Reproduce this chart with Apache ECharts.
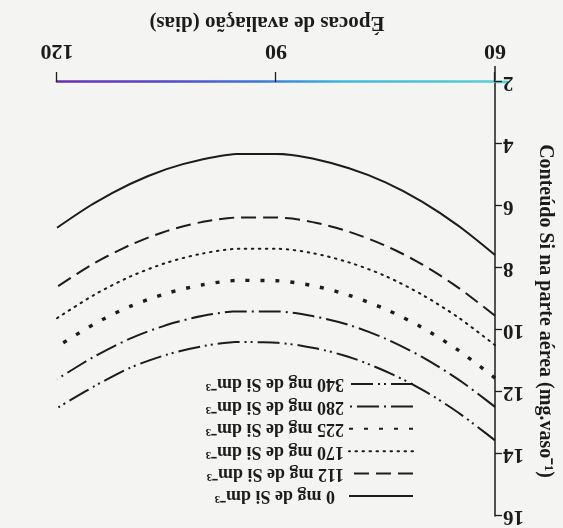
<!DOCTYPE html>
<html>
<head>
<meta charset="utf-8">
<script src="https://cdn.jsdelivr.net/npm/echarts@6/dist/echarts.min.js"></script>
<style>
  html, body { margin: 0; padding: 0; background: #f4f4f2; }
  /* the printed figure is shown turned upside down */
  #chart { width: 563px; height: 528px; transform: rotate(180deg); }
</style>
</head>
<body>
<div id="chart"></div>
<script>
// Evaluation times (days)
const days = [60, 65, 70, 75, 80, 85, 90, 95, 100, 105, 110, 115, 120];
const xTicks = [60, 90, 120];
const yTicks = [2, 4, 6, 8, 10, 12, 14, 16];

// Si content in the shoot (mg per pot) for each Si rate
const si0   = [7.58, 6.64, 5.86, 5.24, 4.78, 4.47, 4.32, 4.32, 4.49, 4.81, 5.29, 5.92, 6.70];
const si112 = [9.54, 8.64, 7.88, 7.28, 6.83, 6.52, 6.37, 6.37, 6.51, 6.81, 7.26, 7.86, 8.61];
const si170 = [10.49, 9.60, 8.86, 8.26, 7.82, 7.52, 7.38, 7.38, 7.53, 7.83, 8.28, 8.88, 9.62];
const si225 = [11.55, 10.66, 9.92, 9.33, 8.88, 8.57, 8.41, 8.40, 8.54, 8.82, 9.24, 9.82, 10.54];
const si280 = [12.48, 11.60, 10.87, 10.28, 9.84, 9.55, 9.40, 9.40, 9.54, 9.84, 10.28, 10.87, 11.59];
const si340 = [13.56, 12.67, 11.92, 11.33, 10.87, 10.57, 10.41, 10.39, 10.52, 10.80, 11.22, 11.83, 12.52];

const seriesNames = [
  '0 mg de Si dm\u207B\u00B3',
  '112 mg de Si dm\u207B\u00B3',
  '170 mg de Si dm\u207B\u00B3',
  '225 mg de Si dm\u207B\u00B3',
  '280 mg de Si dm\u207B\u00B3',
  '340 mg de Si dm\u207B\u00B3'
];
const seriesValues = [si0, si112, si170, si225, si280, si340];

const ink = '#1c1c1c';
const serif = 'Liberation Serif';

// stroke pattern per Si rate
const strokes = [
  { type: 'solid', width: 2 },
  { type: [15, 7], width: 2 },
  { type: [1.5, 5.5], width: 2, cap: 'round' },
  { type: [4, 11], width: 3.4 },
  { type: [22, 5, 2, 5], width: 2 },
  { type: [22, 5, 2, 4, 2, 5], width: 2 }
];

const chart = echarts.init(document.getElementById('chart'), null, { renderer: 'canvas' });

const series = seriesNames.map((name, i) => ({
  name: name,
  type: 'line',
  data: days.map((d, k) => [d, seriesValues[i][k]]),
  smooth: 0.3,
  symbol: 'none',
  showSymbol: false,
  lineStyle: {
    color: ink,
    width: strokes[i].width,
    type: strokes[i].type,
    cap: strokes[i].cap || 'butt'
  },
  itemStyle: { color: ink },
  silent: true
}));

const axisGradient = new echarts.graphic.LinearGradient(0, 0, 1, 0, [
  { offset: 0, color: '#58cfd2' },
  { offset: 0.35, color: '#3fb7dc' },
  { offset: 0.55, color: '#3d74d4' },
  { offset: 0.75, color: '#5648c4' },
  { offset: 1, color: '#6a2fae' }
]);

chart.setOption({
  backgroundColor: '#f4f4f2',
  animation: false,
  grid: { left: 66, right: 57, top: 12, bottom: 82 },
  legend: {
    orient: 'vertical',
    left: 144,
    top: 18,
    itemWidth: 64,
    itemHeight: 14,
    itemGap: 4.4,
    itemStyle: { opacity: 0 },
    data: seriesNames,
    // keep the rate numbers right-aligned in their column
    formatter: name => (/^\d /.test(name) ? '\u2007' : '') + name,
    textStyle: {
      fontFamily: serif,
      fontWeight: 'bold',
      fontSize: 18,
      lineHeight: 18,
      color: ink
    }
  },
  xAxis: {
    type: 'value',
    min: 60,
    max: 120,
    interval: 30,
    name: 'Épocas de avaliação (dias)',
    nameLocation: 'middle',
    nameGap: 49,
    nameTextStyle: {
      fontFamily: serif, fontWeight: 'bold', fontSize: 21, color: ink,
      padding: [0, 0, 0, 18]
    },
    splitLine: { show: false },
    axisLine: { lineStyle: { width: 2.6, color: axisGradient } },
    axisTick: { length: 10, lineStyle: { color: ink, width: 1.3 } },
    axisLabel: {
      margin: 20,
      fontFamily: serif, fontWeight: 'bold', fontSize: 22, color: ink,
      customValues: xTicks
    }
  },
  yAxis: {
    type: 'value',
    min: 2,
    max: 16,
    interval: 2,
    name: 'Conteúdo Si na parte aérea (mg.vaso\u207B\u00B9)',
    nameLocation: 'middle',
    nameGap: 40,
    nameRotate: 90,
    nameTextStyle: {
      fontFamily: serif, fontWeight: 'bold', fontSize: 20, color: ink,
      padding: [0, 0, 0, 24]
    },
    splitLine: { show: false },
    axisLine: { show: true, lineStyle: { color: ink, width: 1.5 } },
    axisTick: { show: true, length: 7, lineStyle: { color: ink, width: 1.3 } },
    axisLabel: {
      margin: 8,
      fontFamily: serif, fontWeight: 'bold', fontSize: 21, color: ink,
      customValues: yTicks
    }
  },
  series: series
});

// short overshoots where the two axis lines cross
const origin = chart.convertToPixel({ gridIndex: 0 }, [60, 2]);
chart.setOption({
  graphic: [
    {
      type: 'line', silent: true,
      shape: { x1: origin[0], y1: origin[1], x2: origin[0], y2: origin[1] + 16 },
      style: { stroke: ink, lineWidth: 1.5 }
    },
    {
      type: 'line', silent: true,
      shape: { x1: origin[0] - 13, y1: origin[1], x2: origin[0], y2: origin[1] },
      style: { stroke: '#58cfd2', lineWidth: 2.6 }
    }
  ]
});
</script>
</body>
</html>
